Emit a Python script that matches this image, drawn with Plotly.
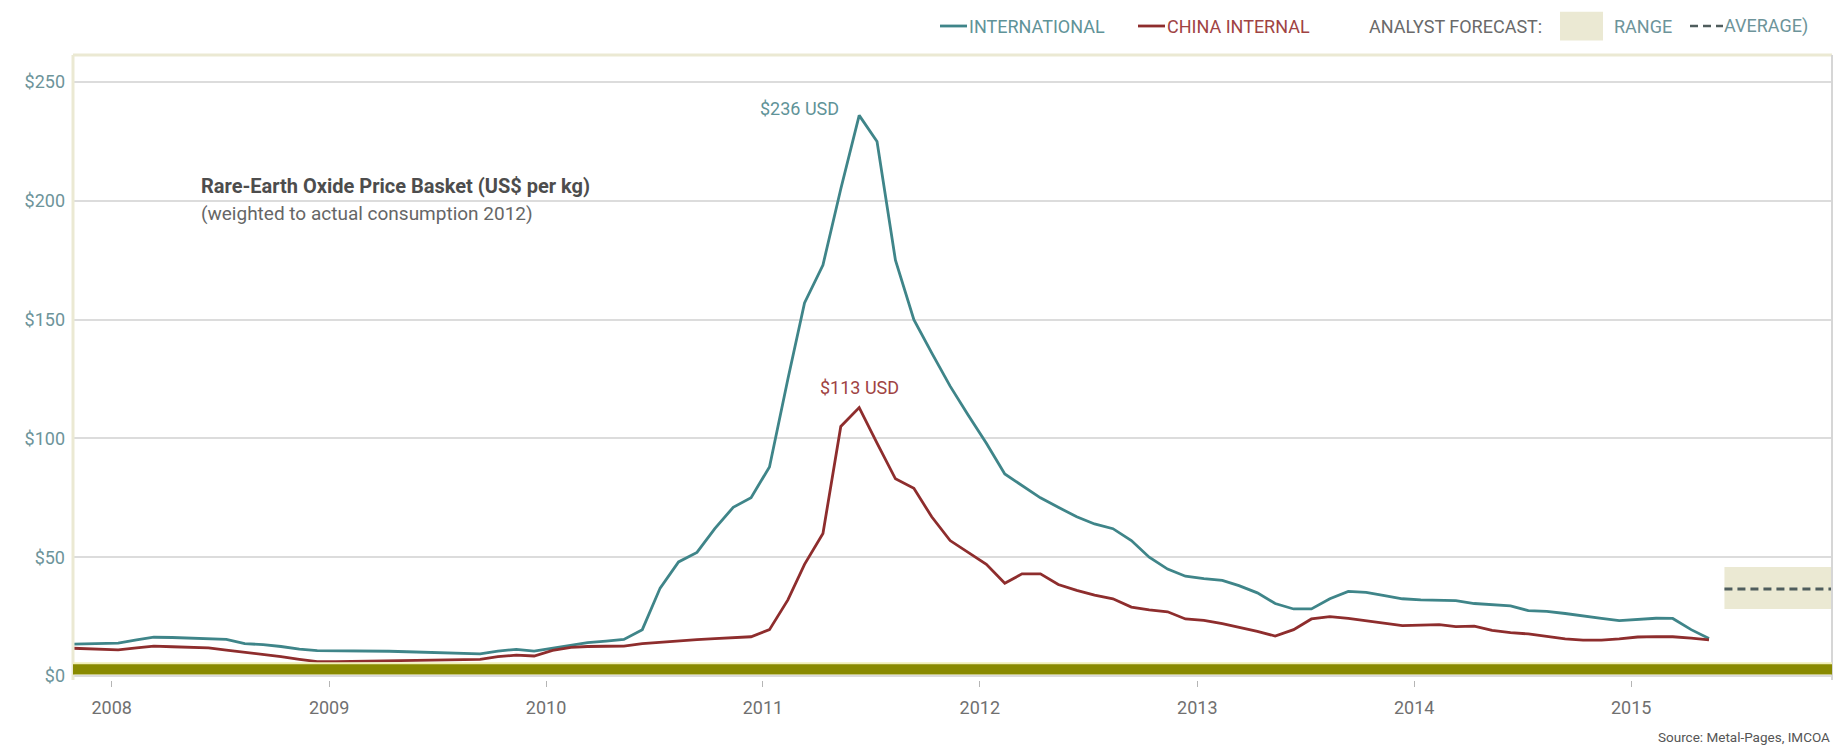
import pandas as pd
import plotly.graph_objects as go

# Monthly price observations, Oct 2007 - May 2015 (US$ per kg)
months = pd.date_range("2007-10-01", "2015-05-01", freq="MS") + pd.Timedelta(days=11)

international = [
    13.3, 13.5, 13.6,
    13.8, 15.2, 16.3, 16.2, 16.0, 15.8, 15.4, 13.6, 13.2, 12.4, 11.3, 10.7,
    10.7, 10.6, 10.5, 10.4, 10.2, 10.0, 9.8, 9.5, 9.3, 10.5, 11.2, 10.5,
    11.6, 12.8, 14.0, 14.7, 15.4, 19.5, 37, 48, 52, 62, 71, 75,
    88, 125, 157, 173, 205, 236, 225, 175, 150, 136, 122, 110,
    98, 85, 80, 75, 71, 67, 64, 62, 57, 50, 45, 42,
    41, 40.2, 38, 35, 30.5, 28.2, 28.2, 32.5, 35.6, 35.2, 33.8, 32.5,
    32, 31.8, 31.7, 30.5, 30, 29.5, 27.5, 27.2, 26.3, 25.2, 24.2, 23.3,
    23.7, 24.3, 24.2, 19.5, 15.8,
]

china_internal = [
    11.8, 11.6, 11.2,
    11.0, 11.8, 12.6, 12.3, 12.0, 11.8, 10.9, 10.0, 9.1, 8.1, 7.0, 6.0,
    6.0, 6.1, 6.2, 6.3, 6.4, 6.5, 6.6, 6.7, 7.0, 8.1, 8.8, 8.4,
    10.8, 12.0, 12.4, 12.5, 12.6, 13.6, 14.2, 14.8, 15.3, 15.7, 16.0, 16.5,
    19.5, 32, 47, 60, 105, 113, 98, 83, 79, 67, 57, 52,
    47, 39, 43, 43, 38.5, 36, 34, 32.5, 29, 27.8, 27, 24,
    23.4, 22, 20.5, 18.8, 16.8, 19.5, 24, 25, 24.2, 23.3, 22.2, 21.2,
    21.4, 21.6, 20.8, 21, 19.2, 18.2, 17.7, 16.6, 15.6, 15.1, 15.1, 15.6,
    16.4, 16.6, 16.5, 15.9, 15.2,
]

# Analyst forecast band and its average
forecast_low = 28.2
forecast_high = 45.9
forecast_avg = 36.6
forecast_start = "2015-06-07"

y_ticks = [0, 50, 100, 150, 200, 250]
y_tick_labels = ["$0", "$50", "$100", "$150", "$200", "$250"]

x_start, x_end = "2007-10-28", "2015-12-05"

TEAL = "#3f8589"
RED = "#8e2d2d"
TEAL_TXT = "#5f9398"
RED_TXT = "#a04343"
AXIS_TXT = "#6d949a"
GREY_TXT = "#6a6a6a"
AVG_LINE = "#4f5d5d"
OLIVE = "#898a00"
CREAM = "#ebe9d3"
FONT = "Roboto, Liberation Sans, sans-serif"

fig = go.Figure()

fig.add_trace(go.Scatter(
    x=months, y=international, mode="lines", name="INTERNATIONAL",
    line=dict(color=TEAL, width=2.8), showlegend=False,
))
fig.add_trace(go.Scatter(
    x=months, y=china_internal, mode="lines", name="CHINA INTERNAL",
    line=dict(color=RED, width=2.8), showlegend=False,
))

peak_i = international.index(max(international))
peak_c = china_internal.index(max(china_internal))

shapes = [
    # forecast range band
    dict(type="rect", xref="x", yref="y", x0=forecast_start, x1=x_end,
         y0=forecast_low, y1=forecast_high, fillcolor=CREAM, line=dict(width=0),
         layer="below"),
    # forecast average
    dict(type="line", xref="x", yref="y", x0=forecast_start, x1=x_end,
         y0=forecast_avg, y1=forecast_avg,
         line=dict(color=AVG_LINE, width=3, dash="8px,5px")),
    # frame
    dict(type="line", xref="paper", yref="paper", x0=0, x1=1, y0=1, y1=1,
         line=dict(color=CREAM, width=3)),
    dict(type="line", xref="paper", yref="paper", x0=0, x1=0, y0=0, y1=1,
         line=dict(color=CREAM, width=3)),
    dict(type="line", xref="paper", yref="paper", x0=1, x1=1, y0=0, y1=1,
         line=dict(color="#d6d6d6", width=2)),
    # olive baseline
    dict(type="rect", xref="paper", yref="y", x0=0, x1=1, y0=0.6, y1=5.0,
         fillcolor=OLIVE, line=dict(width=0)),
    dict(type="line", xref="paper", yref="y", x0=0, x1=1, y0=5.4, y1=5.4,
         line=dict(color="#f1efb8", width=2)),
]

# legend drawn along the top edge
leg_y = 1.0464
def px(xp):
    return (xp - 73) / 1759

shapes += [
    dict(type="line", xref="paper", yref="paper", x0=px(940), x1=px(967),
         y0=leg_y, y1=leg_y, line=dict(color=TEAL, width=2.8)),
    dict(type="line", xref="paper", yref="paper", x0=px(1138), x1=px(1165),
         y0=leg_y, y1=leg_y, line=dict(color=RED, width=2.8)),
    dict(type="rect", xref="paper", yref="paper", x0=px(1560), x1=px(1603),
         y0=leg_y - 0.023, y1=leg_y + 0.023, fillcolor=CREAM, line=dict(width=0)),
    dict(type="line", xref="paper", yref="paper", x0=px(1690), x1=px(1723),
         y0=leg_y, y1=leg_y, line=dict(color=AVG_LINE, width=2.5, dash="8px,5px")),
]

ann = []
def legend_text(x_right, text, color):
    ann.append(dict(xref="paper", yref="paper", x=px(x_right), y=leg_y, text=text,
                    showarrow=False, xanchor="right", yanchor="middle",
                    font=dict(family=FONT, size=18, color=color)))

legend_text(1107, "INTERNATIONAL", TEAL_TXT)
legend_text(1312, "CHINA INTERNAL", RED_TXT)
legend_text(1544, "ANALYST FORECAST:", GREY_TXT)
legend_text(1674, "RANGE", AXIS_TXT)
legend_text(1810, "AVERAGE)", AXIS_TXT)

ann += [
    dict(xref="paper", yref="paper", x=px(199), y=(680 - 186) / 625,
         text="<b>Rare-Earth Oxide Price Basket (US$ per kg)</b>",
         showarrow=False, xanchor="left", yanchor="middle",
         font=dict(family=FONT, size=20, color="#4d4d4d")),
    dict(xref="paper", yref="paper", x=px(199), y=(680 - 213) / 625,
         text="(weighted to actual consumption 2012)",
         showarrow=False, xanchor="left", yanchor="middle",
         font=dict(family=FONT, size=19, color="#666666")),
    dict(x=months[peak_i], y=international[peak_i],
         text=f"${international[peak_i]:.0f} USD", showarrow=False,
         xanchor="right", yanchor="middle", xshift=-18, yshift=7,
         font=dict(family=FONT, size=18, color=TEAL_TXT)),
    dict(x=months[peak_c], y=china_internal[peak_c],
         text=f"${china_internal[peak_c]:.0f} USD", showarrow=False,
         xanchor="center", yanchor="bottom", yshift=8,
         font=dict(family=FONT, size=18, color=RED_TXT)),
    dict(xref="paper", yref="paper", x=1, y=(680 - 737) / 625,
         text="Source: Metal-Pages, IMCOA", showarrow=False,
         xanchor="right", yanchor="middle",
         font=dict(family=FONT, size=13.5, color="#555555")),
]

fig.update_layout(
    width=1839, height=750,
    margin=dict(l=73, r=7, t=55, b=70),
    paper_bgcolor="white", plot_bgcolor="white",
    font=dict(family=FONT),
    shapes=shapes, annotations=ann,
    xaxis=dict(
        type="date", range=[x_start, x_end],
        tick0="2008-01-01", dtick="M12", tickformat="%Y",
        showgrid=False, zeroline=False, showline=False,
        ticks="outside", ticklen=6, tickcolor="#b5b5b5",
        tickfont=dict(family=FONT, size=18, color="#707070"),
        ticklabelstandoff=5,
    ),
    yaxis=dict(
        range=[-1.7, 261.4], tickvals=y_ticks, ticktext=y_tick_labels,
        showgrid=True, gridcolor="#dcdcdc", gridwidth=1.5,
        zeroline=False, showline=False,
        tickfont=dict(family=FONT, size=18, color=AXIS_TXT),
        ticklabelstandoff=7,
    ),
)

fig.write_html("out.html")
